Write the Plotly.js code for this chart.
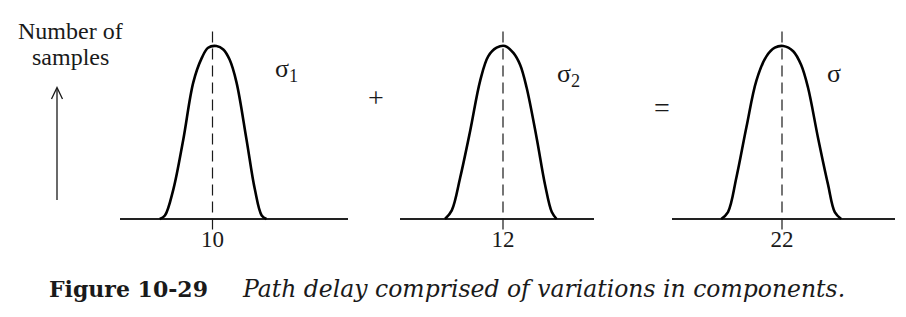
<!DOCTYPE html>
<html>
<head>
<meta charset="utf-8">
<script src="https://cdn.plot.ly/plotly-3.0.1.min.js"></script>
<style>html,body{margin:0;padding:0;background:#fff;}#chart{width:906px;height:317px;}</style>
</head>
<body>
<div id="chart"></div>
<script>
// ---- data ----
const means = [10, 12, 22];
const tickLabels = ['10', '12', '22'];
const sigmaLabels = ['σ<sub>1</sub>', 'σ<sub>2</sub>', 'σ'];

// panel 1 (mean 10)
const curve1X = [8.68, 8.81, 9.02, 9.27, 9.52, 9.73, 9.89, 10.1, 10.27, 10.43, 10.6, 10.85, 11.06, 11.23, 11.35];
const curve1Y = [0, 0.02, 0.17, 0.46, 0.79, 0.93, 0.99, 1.0, 0.98, 0.92, 0.79, 0.46, 0.17, 0.02, 0];
// panel 2 (mean 12)
const curve2X = [10.55, 10.72, 10.93, 11.18, 11.43, 11.63, 11.84, 12.05, 12.26, 12.43, 12.59, 12.84, 13.05, 13.22, 13.34];
const curve2Y = [0, 0.05, 0.24, 0.51, 0.80, 0.94, 0.99, 1.0, 0.96, 0.89, 0.76, 0.47, 0.20, 0.04, 0];
// panel 3 (mean 22)
const curve3X = [20.48, 20.65, 20.86, 21.11, 21.36, 21.61, 21.82, 22.03, 22.28, 22.48, 22.65, 22.9, 23.15, 23.32, 23.48];
const curve3Y = [0, 0.04, 0.24, 0.53, 0.80, 0.94, 0.99, 1.0, 0.97, 0.89, 0.76, 0.47, 0.20, 0.04, 0];

const meanLineY = [-0.06, 1.1];

// ---- layout helpers (pixel -> paper) ----
const W = 906, H = 317;
const px = v => v / W;
const py = v => 1 - v / H;

const serif = '"Liberation Serif", "Times New Roman", serif';
const ink = '#1a1a1a';

const curvesX = [curve1X, curve2X, curve3X];
const curvesY = [curve1Y, curve2Y, curve3Y];
const axisIds = ['', '2', '3'];

const traces = [];
for (let i = 0; i < 3; i++) {
  traces.push({
    type: 'scatter', mode: 'lines',
    x: [means[i], means[i]], y: meanLineY,
    xaxis: 'x' + axisIds[i], yaxis: 'y' + axisIds[i],
    line: {color: ink, width: 1.2, dash: '11px,6px'},
    hoverinfo: 'skip'
  });
  traces.push({
    type: 'scatter', mode: 'lines',
    x: curvesX[i], y: curvesY[i],
    xaxis: 'x' + axisIds[i], yaxis: 'y' + axisIds[i],
    line: {color: '#000', width: 2.6, shape: 'spline', smoothing: 1},
    hoverinfo: 'skip'
  });
}

// axis placement (pixels)
const domainsPx = [[120, 348], [400, 594], [672, 895]];
const centersPx = [212.5, 503, 782];
const pxPerUnit = 40;
const yBase = 219, yPeak = 46;
const unitY = yBase - yPeak;
const yRange = [-(H - yBase) / unitY, yBase / unitY];

const layout = {
  width: W, height: H,
  margin: {l: 0, r: 0, t: 0, b: 0},
  paper_bgcolor: '#fff', plot_bgcolor: 'rgba(0,0,0,0)',
  showlegend: false,
  annotations: [],
  shapes: []
};

for (let i = 0; i < 3; i++) {
  const d = domainsPx[i], c = centersPx[i];
  layout['xaxis' + axisIds[i]] = {
    domain: [px(d[0]), px(d[1])],
    range: [means[i] - (c - d[0]) / pxPerUnit, means[i] + (d[1] - c) / pxPerUnit],
    showgrid: false, zeroline: false, showline: false,
    tickvals: [means[i]], ticktext: [tickLabels[i]], ticks: '',
    tickfont: {family: serif, size: 23, color: ink},
    anchor: 'free', position: py(223),
    fixedrange: true
  };
  layout['yaxis' + axisIds[i]] = {
    domain: [0, 1], range: yRange,
    showgrid: false, showticklabels: false, showline: false, ticks: '',
    zeroline: true, zerolinecolor: '#222', zerolinewidth: 1.4,
    anchor: 'x' + axisIds[i], fixedrange: true
  };
}

// sigma labels
const sigmaPos = [[273, 70], [555, 75], [825, 73]];
for (let i = 0; i < 3; i++) {
  layout.annotations.push({
    xref: 'paper', yref: 'paper', x: px(sigmaPos[i][0]), y: py(sigmaPos[i][1]),
    xanchor: 'left', yanchor: 'middle', showarrow: false,
    text: sigmaLabels[i], font: {family: serif, size: 26, color: ink}
  });
}
// operators
layout.annotations.push({xref: 'paper', yref: 'paper', x: px(376), y: py(97), xanchor: 'center', yanchor: 'middle',
  showarrow: false, text: '+', font: {family: serif, size: 28, color: ink}});
layout.annotations.push({xref: 'paper', yref: 'paper', x: px(662), y: py(107), xanchor: 'center', yanchor: 'middle',
  showarrow: false, text: '=', font: {family: serif, size: 28, color: ink}});
// y label
layout.annotations.push({xref: 'paper', yref: 'paper', x: px(70), y: py(31), xanchor: 'center', yanchor: 'middle',
  showarrow: false, text: 'Number of', font: {family: serif, size: 24, color: ink}});
layout.annotations.push({xref: 'paper', yref: 'paper', x: px(70), y: py(57), xanchor: 'center', yanchor: 'middle',
  showarrow: false, text: 'samples', font: {family: serif, size: 24, color: ink}});
// caption
const capFont = '"DejaVu Serif", serif';
layout.annotations.push({xref: 'paper', yref: 'paper', x: px(47), y: py(289), xanchor: 'left', yanchor: 'middle',
  showarrow: false, text: '<b>Figure 10-29</b>', font: {family: capFont, size: 22, color: ink}});
layout.annotations.push({xref: 'paper', yref: 'paper', x: px(240), y: py(289), xanchor: 'left', yanchor: 'middle',
  showarrow: false, text: '<i>Path delay comprised of variations in components.</i>', font: {family: capFont, size: 23.5, color: ink}});

// arrow
layout.shapes.push({type: 'line', xref: 'paper', yref: 'paper', x0: px(57), x1: px(57), y0: py(200), y1: py(88),
  line: {color: ink, width: 1.3}});
layout.shapes.push({type: 'path', xref: 'paper', yref: 'paper',
  path: `M ${px(51.5)},${py(99)} L ${px(57)},${py(87.5)} L ${px(62.5)},${py(99)}`,
  line: {color: ink, width: 1.3}});

Plotly.newPlot('chart', traces, layout, {staticPlot: true, displayModeBar: false});
</script>
</body>
</html>
